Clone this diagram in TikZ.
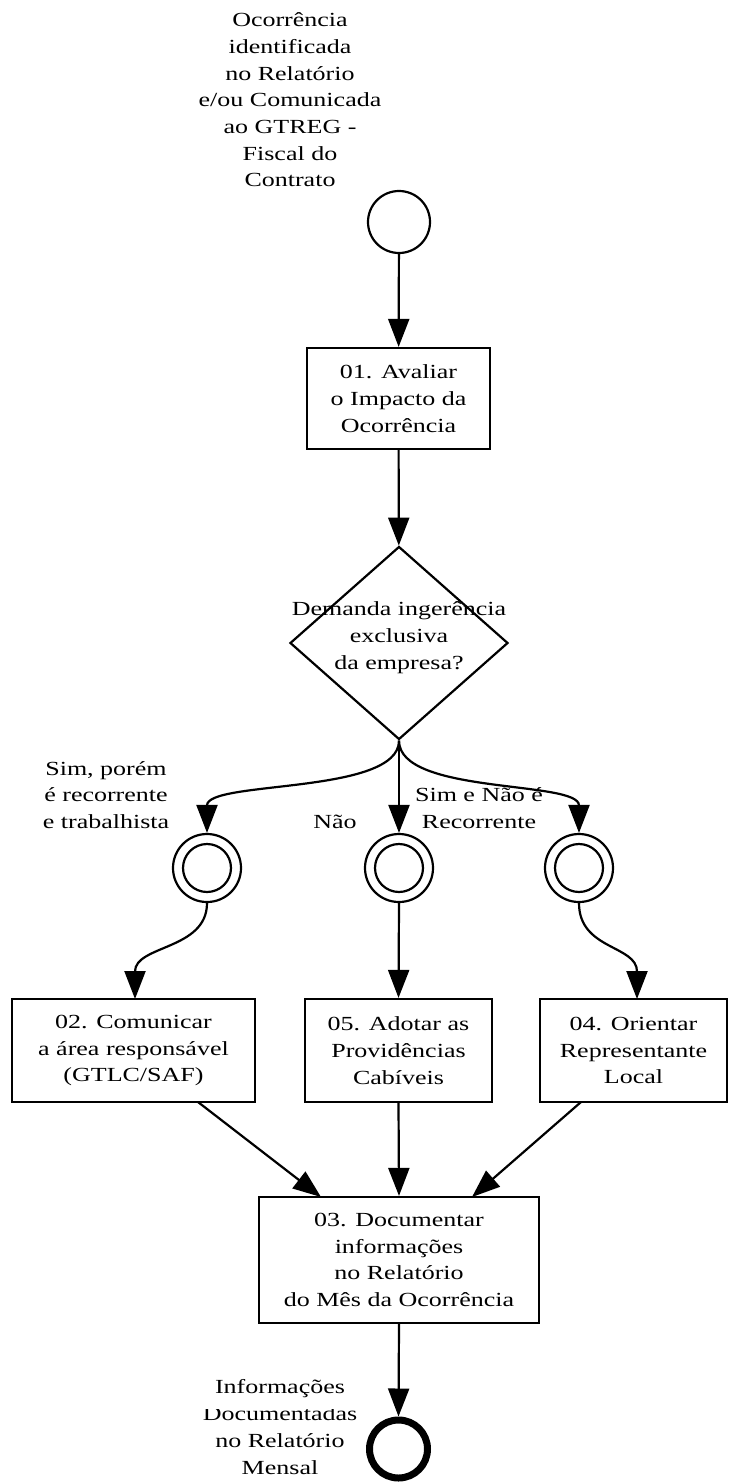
\documentclass[tikz,border=0pt]{standalone}
\usepackage{fontspec}
\setmainfont{Liberation Serif}[FakeStretch=1.3]
\usetikzlibrary{arrows.meta,shapes.geometric}
\begin{document}
\begin{tikzpicture}[x=1pt,y=-1pt,
  txt/.style={align=center,font=\fontsize{20}{26.7}\selectfont,inner sep=0pt},
  task/.style={draw,line width=2.2pt,rectangle,inner sep=0pt,txt},
  flow/.style={line width=2.2pt,-{Triangle[length=28pt,width=21pt]}},
  startev/.style={draw,circle,line width=2.2pt,minimum size=62pt,inner sep=0pt},
  midev/.style={draw,circle,line width=2.2pt,minimum size=68pt,inner sep=0pt},
  endev/.style={draw,circle,line width=7pt,minimum size=58pt,inner sep=0pt},
  gate/.style={draw,diamond,line width=2.2pt,minimum width=218pt,minimum height=193pt,inner sep=0pt}]
\useasboundingbox[fill=white] (0,0) rectangle (729,1482);

% start
\node[startev] (s) at (399,222) {};
\begin{scope}
\clip (140,13) rectangle (460,187);
\node[txt] (slab) at (290,100) {Ocorrência\\identificada\\no Relatório\\e/ou Comunicada\\ao GTREG -\\Fiscal do\\Contrato};
\end{scope}

% task 01
\node[task,minimum width=183pt,minimum height=101pt] (b01) at (398.5,398.5) {01. Avaliar\\o Impacto da\\Ocorrência};

% gateway
\node[gate] (d) at (399,643) {};
\node[txt] (dlab) at (399,637.5) {Demanda ingerência\\exclusiva\\da empresa?};

% intermediate events
\node[midev] (e1) at (207,868) {};
\node[midev] (e2) at (399,868) {};
\node[midev] (e3) at (579,868) {};
\draw[line width=2.2pt] (e1.center) circle[radius=24pt];
\draw[line width=2.2pt] (e2.center) circle[radius=24pt];
\draw[line width=2.2pt] (e3.center) circle[radius=24pt];

% tasks
\node[task,minimum width=243pt,minimum height=103pt] (b02) at (133.5,1050.5) {02. Comunicar\\a área responsável\\(GTLC/SAF)};
\node[task,minimum width=187pt,minimum height=103pt] (b05) at (398.5,1050.5) {05. Adotar as\\Providências\\Cabíveis};
\node[task,minimum width=187pt,minimum height=103pt] (b04) at (633.5,1050.5) {04. Orientar\\Representante\\Local};
\node[task,minimum width=280pt,minimum height=126pt] (b03) at (399,1260) {03. Documentar\\informações\\no Relatório\\do Mês da Ocorrência};

% end
\node[endev] (en) at (398.5,1449) {};
\begin{scope}
\clip (150,1360) rectangle (360,1400) (150,1409) rectangle (360,1482);
\node[txt] (elab) at (280,1427) {Informações\\Documentadas\\no Relatório\\Mensal};
\end{scope}

% labels
\node[txt] (l1) at (106,795) {Sim, porém\\é recorrente\\e trabalhista};
\node[txt] (l2) at (335,822) {Não};
\begin{scope}
\clip (400,770) rectangle (560,828);
\node[txt] (l3) at (479,808) {Sim e Não é\\Recorrente};
\end{scope}

% connectors
\draw[flow] (s) -- (b01);
\draw[flow] (b01) -- (d);
\draw[flow] (d.south) -- (e2.north);
\draw[flow] (d.south) .. controls (399,795) and (207,780) .. (e1.north);
\draw[flow] (d.south) .. controls (399,795) and (579,780) .. (e3.north);
\draw[flow] (e1.south) .. controls (207,950) and (135,945) .. (135,999);
\draw[flow] (e2.south) -- (b05.north);
\draw[flow] (e3.south) .. controls (579,950) and (637,945) .. (637,999);
\draw[flow] (198,1102) -- (321,1197);
\draw[flow] (b05.south) -- (b03.north);
\draw[flow] (581,1102) -- (472,1197);
\draw[flow] (b03.south) -- (en.north);
\end{tikzpicture}
\end{document}
